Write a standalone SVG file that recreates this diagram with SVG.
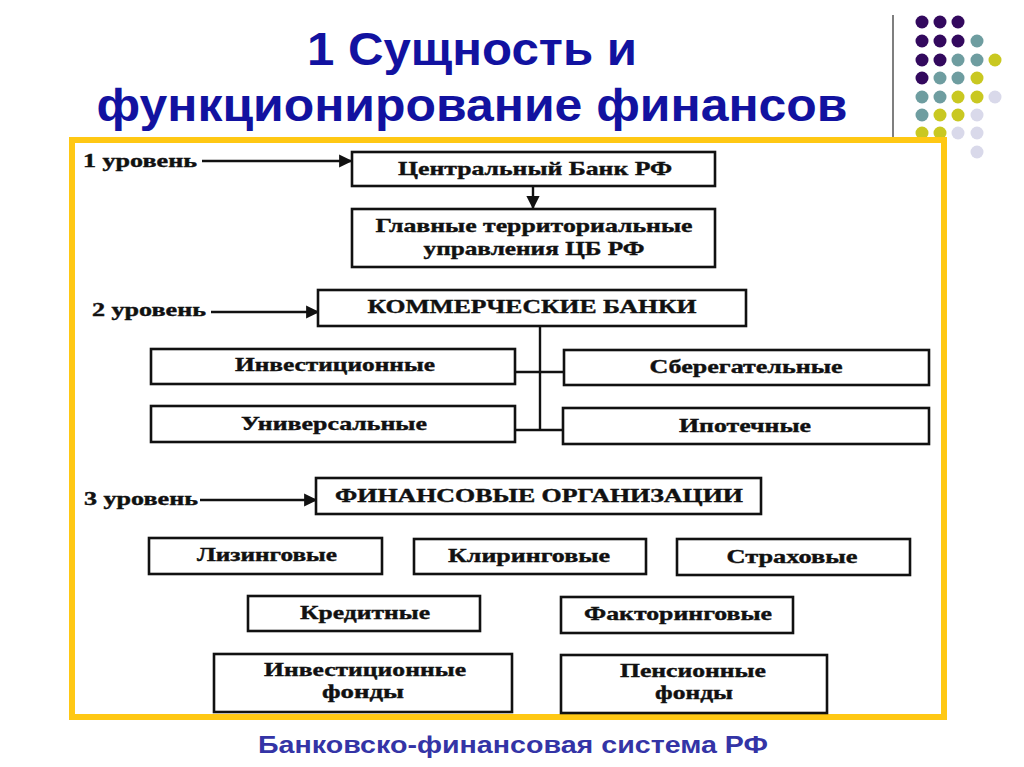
<svg xmlns="http://www.w3.org/2000/svg" width="1024" height="767" viewBox="0 0 1024 767">
<defs>
<style>
.title{font-family:"Liberation Sans",Arial,sans-serif;font-weight:bold;font-size:46px;fill:#1212A0;text-anchor:middle}
.cap{font-family:"Liberation Sans",Arial,sans-serif;font-weight:bold;font-size:24px;fill:#3434A6;text-anchor:middle}
.box{fill:#fff;stroke:#111;stroke-width:2.6}
.t{font-family:"Liberation Serif","Times New Roman",serif;font-weight:bold;font-size:19px;fill:#111;stroke:#111;stroke-width:0.4;text-anchor:middle}
.lv{font-family:"Liberation Serif","Times New Roman",serif;font-weight:bold;font-size:18px;fill:#111;stroke:#111;stroke-width:0.4}
.ln{stroke:#111;stroke-width:2.4;fill:none}
.p{fill:#33095E}.g{fill:#6E9DA0}.y{fill:#C9C821}.l{fill:#D9D9EA}
</style>
<marker id="ah" viewBox="0 0 10 10" refX="9" refY="5" markerWidth="5.5" markerHeight="5.5" orient="auto" markerUnits="strokeWidth">
<path d="M0,0 L10,5 L0,10 z" fill="#111"/>
</marker>
</defs>
<rect width="1024" height="767" fill="#fff"/>
<g id="decor">
<line x1="893" y1="15" x2="893" y2="137" stroke="#555" stroke-width="1.5"/>
<circle class="p" cx="922" cy="22" r="6.5"/><circle class="p" cx="940" cy="22" r="6.5"/><circle class="p" cx="958" cy="22" r="6.5"/>
<circle class="p" cx="922" cy="41" r="6.5"/><circle class="p" cx="940" cy="41" r="6.5"/><circle class="p" cx="958" cy="41" r="6.5"/><circle class="g" cx="977" cy="41" r="6.5"/>
<circle class="p" cx="922" cy="60" r="6.5"/><circle class="p" cx="940" cy="60" r="6.5"/><circle class="g" cx="958" cy="60" r="6.5"/><circle class="g" cx="977" cy="60" r="6.5"/><circle class="y" cx="995" cy="60" r="6.5"/>
<circle class="p" cx="922" cy="78" r="6.5"/><circle class="g" cx="940" cy="78" r="6.5"/><circle class="g" cx="958" cy="78" r="6.5"/><circle class="y" cx="977" cy="78" r="6.5"/>
<circle class="g" cx="922" cy="97" r="6.5"/><circle class="g" cx="940" cy="97" r="6.5"/><circle class="y" cx="958" cy="97" r="6.5"/><circle class="y" cx="977" cy="97" r="6.5"/><circle class="l" cx="995" cy="97" r="6.5"/>
<circle class="g" cx="922" cy="115" r="6.5"/><circle class="y" cx="940" cy="115" r="6.5"/><circle class="y" cx="958" cy="115" r="6.5"/><circle class="l" cx="977" cy="115" r="6.5"/>
<circle class="y" cx="922" cy="133" r="6.5"/><circle class="y" cx="940" cy="133" r="6.5"/><circle class="l" cx="958" cy="133" r="6.5"/><circle class="l" cx="977" cy="133" r="6.5"/>
<circle class="l" cx="977" cy="152" r="6.5"/>
<rect x="72" y="140" width="872" height="577" fill="#fff" stroke="#FFC814" stroke-width="6"/>
</g>
<g id="title">
<text class="title" x="472" y="65" textLength="330" lengthAdjust="spacingAndGlyphs">1 Сущность и</text>
<text class="title" x="472" y="121" textLength="751" lengthAdjust="spacingAndGlyphs">функционирование финансов</text>
</g>
<g id="connectors">
<line class="ln" x1="202" y1="161" x2="351" y2="161" marker-end="url(#ah)"/>
<line class="ln" x1="211" y1="312" x2="318" y2="312" marker-end="url(#ah)"/>
<line class="ln" x1="200" y1="500" x2="316" y2="500" marker-end="url(#ah)"/>
<line class="ln" x1="533" y1="186" x2="533" y2="208" marker-end="url(#ah)"/>
<line class="ln" x1="540" y1="326" x2="540" y2="431"/>
<line class="ln" x1="515" y1="372" x2="564" y2="372"/>
<line class="ln" x1="515" y1="430" x2="563" y2="430"/>
</g>
<g id="levels">
<text class="lv" x="83" y="167" textLength="114" lengthAdjust="spacingAndGlyphs">1 уровень</text>
<text class="lv" x="92" y="316" textLength="114" lengthAdjust="spacingAndGlyphs">2 уровень</text>
<text class="lv" x="84" y="505" textLength="114" lengthAdjust="spacingAndGlyphs">3 уровень</text>
</g>
<g id="n-cb"><rect class="box" x="352" y="152" width="363" height="34"/><text class="t" x="535" y="175" textLength="274" lengthAdjust="spacingAndGlyphs">Центральный Банк РФ</text></g>
<g id="n-gtu"><rect class="box" x="352" y="209" width="363" height="58"/><text class="t" x="534" y="232" textLength="317" lengthAdjust="spacingAndGlyphs">Главные территориальные</text><text class="t" x="534" y="255" textLength="221" lengthAdjust="spacingAndGlyphs">управления ЦБ РФ</text></g>
<g id="n-kb"><rect class="box" x="318" y="290" width="428" height="36"/><text class="t" x="532" y="313" textLength="329" lengthAdjust="spacingAndGlyphs">КОММЕРЧЕСКИЕ БАНКИ</text></g>
<g id="n-inv"><rect class="box" x="151" y="349" width="364" height="35"/><text class="t" x="335" y="371" textLength="200" lengthAdjust="spacingAndGlyphs">Инвестиционные</text></g>
<g id="n-sber"><rect class="box" x="564" y="350" width="365" height="35"/><text class="t" x="746" y="373" textLength="193" lengthAdjust="spacingAndGlyphs">Сберегательные</text></g>
<g id="n-univ"><rect class="box" x="151" y="406" width="364" height="36"/><text class="t" x="334" y="430" textLength="186" lengthAdjust="spacingAndGlyphs">Универсальные</text></g>
<g id="n-ipot"><rect class="box" x="563" y="408" width="366" height="36"/><text class="t" x="745" y="432" textLength="132" lengthAdjust="spacingAndGlyphs">Ипотечные</text></g>
<g id="n-fo"><rect class="box" x="316" y="478" width="445" height="36"/><text class="t" x="539" y="502" textLength="408" lengthAdjust="spacingAndGlyphs">ФИНАНСОВЫЕ ОРГАНИЗАЦИИ</text></g>
<g id="n-liz"><rect class="box" x="149" y="538" width="233" height="36"/><text class="t" x="267" y="561" textLength="140" lengthAdjust="spacingAndGlyphs">Лизинговые</text></g>
<g id="n-kli"><rect class="box" x="414" y="539" width="232" height="35"/><text class="t" x="529" y="562" textLength="162" lengthAdjust="spacingAndGlyphs">Клиринговые</text></g>
<g id="n-str"><rect class="box" x="677" y="539" width="233" height="36"/><text class="t" x="792" y="563" textLength="131" lengthAdjust="spacingAndGlyphs">Страховые</text></g>
<g id="n-kred"><rect class="box" x="248" y="596" width="232" height="35"/><text class="t" x="365" y="619" textLength="130" lengthAdjust="spacingAndGlyphs">Кредитные</text></g>
<g id="n-fakt"><rect class="box" x="561" y="597" width="232" height="36"/><text class="t" x="678" y="620" textLength="188" lengthAdjust="spacingAndGlyphs">Факторинговые</text></g>
<g id="n-invf"><rect class="box" x="214" y="654" width="298" height="58"/><text class="t" x="365" y="676" textLength="202" lengthAdjust="spacingAndGlyphs">Инвестиционные</text><text class="t" x="363" y="698" textLength="82" lengthAdjust="spacingAndGlyphs">фонды</text></g>
<g id="n-pens"><rect class="box" x="561" y="655" width="266" height="58"/><text class="t" x="693" y="677" textLength="146" lengthAdjust="spacingAndGlyphs">Пенсионные</text><text class="t" x="694" y="699" textLength="78" lengthAdjust="spacingAndGlyphs">фонды</text></g>
<g id="caption">
<text class="cap" x="513" y="753" textLength="510" lengthAdjust="spacingAndGlyphs">Банковско-финансовая система РФ</text>
</g>
</svg>
